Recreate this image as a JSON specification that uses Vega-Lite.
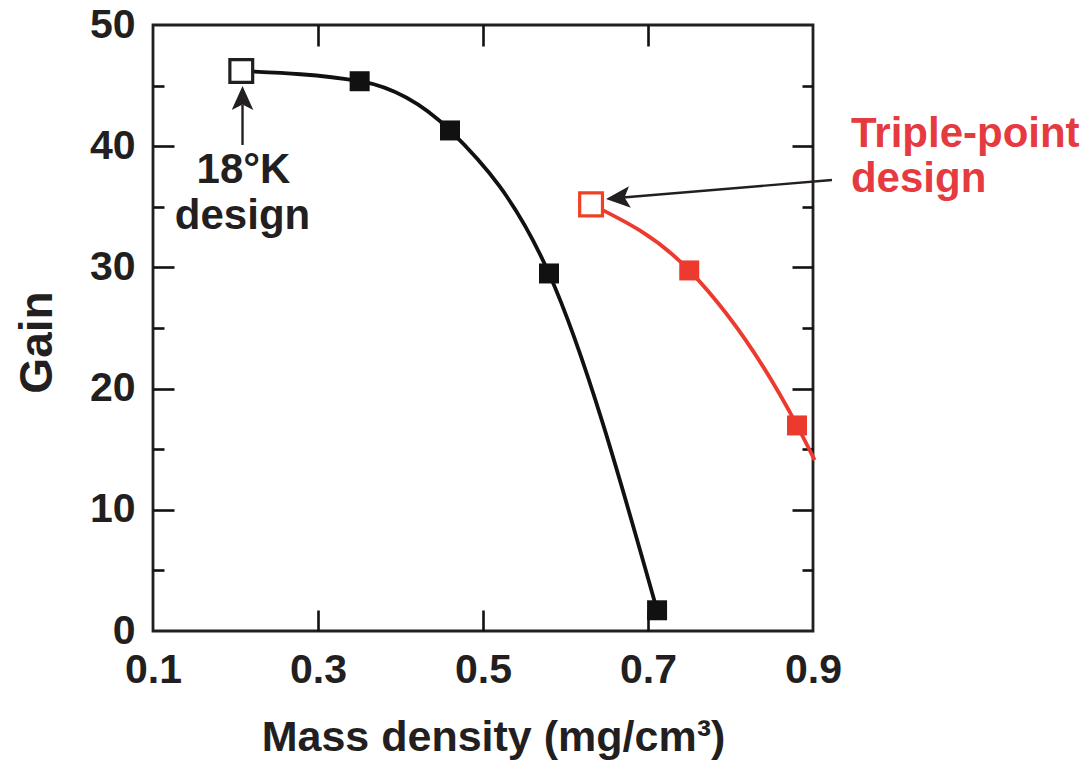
{
  "$schema": "https://vega.github.io/schema/vega-lite/v6.json",
  "autosize": {"type": "none"},
  "padding": {"left": 153, "top": 25, "right": 277, "bottom": 130},
  "width": 660,
  "height": 606,
  "background": "white",
  "config": {
    "view": {"stroke": "#231f20", "strokeWidth": 2.8},
    "axis": {
      "grid": false,
      "domain": false,
      "title": null,
      "tickColor": "#111111",
      "tickWidth": 2.6,
      "labelFont": "Liberation Sans",
      "labelFontWeight": "bold",
      "labelFontSize": 41,
      "labelColor": "#231f20",
      "labelOverlap": false,
      "labelBound": false,
      "labelFlush": false,
      "titleFont": "Liberation Sans",
      "titleFontWeight": "bold",
      "titleColor": "#231f20"
    }
  },
  "datasets": {
    "gain": [
      {"series": "18 K", "density": 0.207, "gain": 46.2, "marker": "open"},
      {"series": "18 K", "density": 0.3505, "gain": 45.36, "marker": "filled"},
      {"series": "18 K", "density": 0.46, "gain": 41.3, "marker": "filled"},
      {"series": "18 K", "density": 0.58, "gain": 29.5, "marker": "filled"},
      {"series": "18 K", "density": 0.711, "gain": 1.71, "marker": "filled"},
      {"series": "Triple point", "density": 0.631, "gain": 35.2, "marker": "open"},
      {"series": "Triple point", "density": 0.75, "gain": 29.75, "marker": "filled"},
      {"series": "Triple point", "density": 0.8806, "gain": 16.96, "marker": "filled"},
      {"series": "Triple point", "density": 0.902, "gain": 14.1, "marker": "none"}
    ],
    "arrows": [
      {"series": "18 K", "density": 0.2085, "gain": 40.1, "density_end": 0.2085, "gain_end": 43.43, "head_density": 0.2085, "head_gain": 43.98},
      {"series": "Triple point", "density": 0.923, "gain": 37.21, "density_end": 0.6697, "gain_end": 35.77, "head_density": 0.6636, "head_gain": 35.73}
    ],
    "notes": [
      {"series": "18 K", "label": "18°K", "density": 0.2097, "gain": 36.96},
      {"series": "18 K", "label": "design", "density": 0.2085, "gain": 33.17},
      {"series": "Triple point", "label": "Triple-point", "density": 0.946, "gain": 39.93},
      {"series": "Triple point", "label": "design", "density": 0.946, "gain": 36.22}
    ]
  },
  "resolve": {"axis": {"x": "independent", "y": "independent"}},
  "layer": [
    {
      "data": {"name": "gain"},
      "mark": {"type": "line", "interpolate": "monotone", "strokeWidth": 3.8},
      "encoding": {
        "x": {
          "field": "density", "type": "quantitative",
          "scale": {"domain": [0.1, 0.9], "nice": false, "zero": false},
          "axis": {
            "orient": "bottom", "values": [0.1, 0.3, 0.5, 0.7, 0.9], "format": ".1f",
            "ticks": false, "labelPadding": 19,
            "title": "Mass density (mg/cm³)", "titleFontSize": 43,
            "titleX": 340, "titleY": 119, "titleAlign": "center", "titleBaseline": "alphabetic", "titleAnchor": null
          }
        },
        "y": {
          "field": "gain", "type": "quantitative",
          "scale": {"domain": [0, 50], "nice": false, "zero": true},
          "axis": {
            "orient": "left", "values": [0, 10, 20, 30, 40, 50],
            "ticks": false, "labelPadding": 18,
            "title": "Gain", "titleFontSize": 46, "titleAngle": -90,
            "titleX": -102, "titleY": 317, "titleAlign": "center", "titleBaseline": "alphabetic", "titleAnchor": null
          }
        },
        "color": {
          "field": "series", "type": "nominal",
          "scale": {"domain": ["18 K", "Triple point"], "range": ["#111111", "#ec3a2e"]},
          "legend": null
        }
      }
    },
    {
      "data": {"name": "gain"},
      "transform": [{"filter": "datum.marker === 'filled'"}],
      "mark": {"type": "point", "shape": "square", "filled": true, "size": 400, "opacity": 1},
      "encoding": {
        "x": {"field": "density", "type": "quantitative",
          "axis": {"orient": "top", "values": [0.3, 0.5, 0.7], "labels": false, "tickSize": -21}},
        "y": {"field": "gain", "type": "quantitative",
          "axis": {"orient": "left", "values": [10, 20, 30, 40], "labels": false, "tickSize": -21}},
        "color": {
          "field": "series", "type": "nominal",
          "scale": {"domain": ["18 K", "Triple point"], "range": ["#000000", "#e8332f"]},
          "legend": null
        }
      }
    },
    {
      "data": {"name": "gain"},
      "transform": [{"filter": "datum.marker === 'open'"}],
      "mark": {"type": "point", "shape": "square", "filled": false, "fill": "white", "fillOpacity": 1, "size": 520, "strokeWidth": 3.2, "opacity": 1},
      "encoding": {
        "x": {"field": "density", "type": "quantitative",
          "axis": {"orient": "bottom", "values": [0.3, 0.5, 0.7], "labels": false, "tickSize": -21}},
        "y": {"field": "gain", "type": "quantitative",
          "axis": {"orient": "left", "values": [5, 15, 25, 35, 45], "labels": false, "tickSize": -11}},
        "stroke": {
          "field": "series", "type": "nominal",
          "scale": {"domain": ["18 K", "Triple point"], "range": ["#231f20", "#ef4123"]},
          "legend": null
        }
      }
    },
    {
      "data": {"name": "arrows"},
      "mark": {"type": "rule", "strokeWidth": 2.4, "color": "#231f20"},
      "encoding": {
        "x": {"field": "density", "type": "quantitative", "axis": null},
        "y": {"field": "gain", "type": "quantitative",
          "axis": {"orient": "right", "values": [10, 20, 30, 40], "labels": false, "tickSize": -21}},
        "x2": {"field": "density_end"},
        "y2": {"field": "gain_end"}
      }
    },
    {
      "data": {"name": "arrows"},
      "transform": [{"filter": "datum.series === '18 K'"}],
      "mark": {"type": "point", "shape": "M0,-1L0.9,1L0,0.55L-0.9,1Z", "filled": true, "size": 576, "color": "#231f20", "opacity": 1, "angle": 0},
      "encoding": {
        "x": {"field": "head_density", "type": "quantitative", "axis": null},
        "y": {"field": "head_gain", "type": "quantitative",
          "axis": {"orient": "right", "values": [5, 15, 25, 35, 45], "labels": false, "tickSize": -11}}
      }
    },
    {
      "data": {"name": "arrows"},
      "transform": [{"filter": "datum.series === 'Triple point'"}],
      "mark": {"type": "point", "shape": "M0,-1L0.9,1L0,0.55L-0.9,1Z", "filled": true, "size": 576, "color": "#231f20", "opacity": 1, "angle": 265},
      "encoding": {
        "x": {"field": "head_density", "type": "quantitative", "axis": null},
        "y": {"field": "head_gain", "type": "quantitative", "axis": null}
      }
    },
    {
      "data": {"name": "notes"},
      "transform": [{"filter": "datum.series === '18 K'"}],
      "mark": {"type": "text", "font": "Liberation Sans", "fontWeight": "bold", "fontSize": 42, "align": "center", "baseline": "alphabetic", "color": "#231f20"},
      "encoding": {
        "x": {"field": "density", "type": "quantitative", "axis": null},
        "y": {"field": "gain", "type": "quantitative", "axis": null},
        "text": {"field": "label"}
      }
    },
    {
      "data": {"name": "notes"},
      "transform": [{"filter": "datum.series === 'Triple point'"}],
      "mark": {"type": "text", "font": "Liberation Sans", "fontWeight": "bold", "fontSize": 42, "align": "left", "baseline": "alphabetic", "color": "#e53a40"},
      "encoding": {
        "x": {"field": "density", "type": "quantitative", "axis": null},
        "y": {"field": "gain", "type": "quantitative", "axis": null},
        "text": {"field": "label"}
      }
    }
  ]
}
